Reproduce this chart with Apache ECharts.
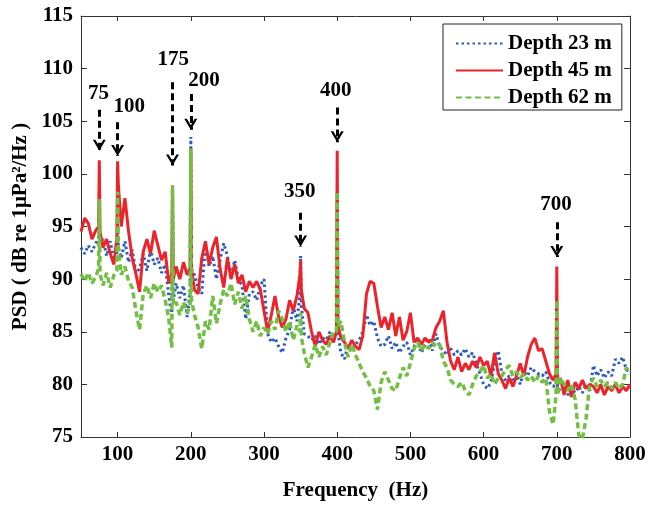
<!DOCTYPE html>
<html>
<head>
<meta charset="utf-8">
<script src="https://cdn.jsdelivr.net/npm/echarts@6/dist/echarts.min.js"></script>
<style>
  html, body { margin: 0; padding: 0; background: #fff; }
  #chart { width: 650px; height: 506px; }
</style>
</head>
<body>
<div id="chart"></div>
<script>
// frequency grid (Hz), extra points around the tonal peaks
const freq = [
  50, 55, 60, 65, 70, 74, 75, 76, 80, 85, 90, 95, 99, 100, 101,
  105, 110, 115, 120, 125, 130, 135, 140, 145, 150, 155, 160, 165, 170, 174, 175, 176,
  180, 185, 190, 195, 199, 200, 201, 205, 210, 215, 220, 225, 230, 235, 240, 245, 250,
  255, 260, 265, 270, 275, 280, 285, 290, 295, 300, 305, 310, 315, 320, 325, 330, 335, 340, 345,
  349, 350, 351, 355, 360, 365, 370, 375, 380, 385, 390, 395, 399, 400, 401,
  405, 410, 415, 420, 425, 430, 435, 440, 445, 450, 455, 460, 465, 470, 475, 480, 485, 490, 495, 500,
  505, 510, 515, 520, 525, 530, 535, 540, 545, 550, 555, 560, 565, 570, 575, 580, 585, 590, 595, 600,
  605, 610, 615, 620, 625, 630, 635, 640, 645, 650, 655, 660, 665, 670, 675, 680, 685, 690, 695, 699, 700, 701,
  705, 710, 715, 720, 725, 730, 735, 740, 745, 750, 755, 760, 765, 770, 775, 780, 785, 790, 795, 800
];

// PSD, dB re 1uPa^2/Hz
const depth23 = [
  93.0, 92.4, 93.2, 92.6, 93.4, 93.8, 94.6, 93.5, 93.8, 92.2, 93.6, 91.8, 92.5, 95.8, 93.0,
  92.0, 93.6, 91.6, 92.8, 90.6, 91.0, 92.4, 90.8, 92.8, 91.4, 92.0, 90.6, 91.4, 88.4, 86.5, 98.5, 88.0,
  89.6, 88.2, 89.4, 86.4, 88.8, 103.5, 91.0, 90.4, 89.2, 88.6, 93.4, 91.2, 92.2, 90.0, 91.8, 93.4, 92.2,
  90.2, 91.8, 90.0, 89.4, 86.2, 88.6, 88.8, 88.0, 89.4, 90.0, 84.8, 84.0, 84.4, 83.6, 83.0, 84.4, 85.2, 87.4, 86.0,
  88.5, 92.2, 87.5, 84.8, 84.6, 84.2, 84.6, 83.8, 84.4, 84.2, 85.0, 84.4, 85.0, 97.5, 85.0,
  83.0, 82.4, 83.8, 83.4, 83.8, 84.2, 85.0, 86.6, 85.6, 86.0, 84.4, 83.6, 83.8, 84.6, 83.4, 84.0, 83.0, 83.6, 84.0, 82.8,
  83.6, 84.2, 83.0, 83.8, 84.4, 83.2, 84.8, 83.6, 83.2, 82.8, 83.4, 82.8, 83.2, 82.8, 83.4, 82.6, 83.0, 82.0, 81.0, 80.0,
  79.6, 80.2, 82.0, 83.2, 81.0, 80.4, 80.8, 80.2, 81.0, 80.0, 81.2, 80.8, 81.6, 81.2, 81.0, 80.8, 81.2, 80.2, 79.8, 80.0, 84.0, 79.6,
  79.4, 79.8, 79.0, 79.6, 79.2, 79.8, 79.2, 80.0, 79.4, 81.8, 80.8, 81.4, 80.6, 81.2, 80.8, 82.4, 82.0, 82.6, 81.4, 81.2
];
const depth45 = [
  94.5, 95.8, 95.3, 93.8, 94.6, 95.0, 101.3, 94.5, 93.0, 93.8, 92.4, 91.4, 94.0, 101.2, 99.0,
  95.0, 97.7, 94.5, 92.0, 90.5, 88.8, 92.6, 93.8, 92.4, 94.6, 93.2, 91.8, 92.6, 89.6, 90.5, 98.9, 90.0,
  91.2, 90.0, 91.6, 90.4, 91.0, 102.4, 91.0, 89.0, 88.6, 92.0, 93.6, 91.4, 93.0, 94.0, 91.0, 89.2, 92.0,
  90.0, 91.4, 89.6, 90.4, 88.8, 89.8, 89.2, 89.8, 89.0, 87.0, 85.0, 86.6, 88.4, 86.4, 85.4, 86.2, 88.0, 87.0, 88.4,
  90.4, 91.8, 89.0, 87.2, 86.8, 85.0, 83.6, 85.0, 84.2, 83.8, 84.6, 84.0, 85.0, 102.2, 85.5,
  84.5, 84.0, 83.4, 84.2, 83.6, 83.3, 84.6, 88.6, 89.8, 89.6, 87.4, 85.4, 86.4, 85.2, 86.8, 84.6, 86.4, 84.2, 85.0, 86.8,
  84.0, 84.4, 83.8, 84.4, 84.0, 84.2, 85.4, 86.0, 87.0, 84.0, 82.2, 81.4, 82.6, 81.2, 82.0, 81.4, 82.2, 81.6, 82.6, 81.8,
  82.2, 80.8, 83.0, 81.0, 80.4, 79.6, 80.6, 79.8, 80.8, 82.0, 80.8, 82.6, 83.8, 84.4, 83.2, 83.4, 82.2, 81.0, 80.4, 81.0, 91.2, 80.0,
  80.6, 79.0, 80.4, 78.8, 80.2, 79.6, 80.4, 79.6, 80.0, 79.8, 79.2, 80.0, 79.0, 79.8, 79.4, 80.0, 79.2, 79.8, 79.4, 80.0
];
const depth62 = [
  90.5, 89.8, 90.6, 89.6, 90.2, 91.0, 97.6, 90.5, 89.4, 90.6, 89.2, 90.4, 90.8, 98.3, 93.0,
  90.4, 91.2, 89.8, 89.2, 87.0, 85.2, 88.6, 89.4, 88.2, 89.6, 88.8, 89.4, 88.0, 86.2, 83.5, 98.9, 87.5,
  87.8, 86.6, 87.8, 86.8, 87.5, 102.4, 88.0, 86.6, 85.4, 83.4, 86.0, 85.2, 88.4, 85.8, 87.6, 89.0, 88.4,
  89.6, 87.6, 88.8, 87.2, 88.4, 86.2, 85.0, 86.0, 84.6, 85.4, 84.8, 86.0, 85.2, 87.0, 86.2, 85.0, 86.0, 84.2, 85.6,
  85.0, 86.8, 84.5, 83.0, 81.6, 82.6, 83.8, 82.6, 83.6, 82.8, 84.0, 85.0, 85.0, 98.3, 85.5,
  86.0, 84.0, 82.6, 83.8, 82.8, 82.0, 81.2, 80.6, 79.8, 79.4, 77.6, 80.2, 81.2, 80.4, 79.6, 79.4, 80.6, 81.6, 80.8, 82.0,
  83.4, 84.0, 83.2, 83.8, 83.4, 84.0, 83.6, 83.8, 82.2, 81.6, 80.4, 80.0, 79.8, 80.2, 79.4, 79.0, 80.0, 80.8, 81.2, 81.8,
  80.6, 81.0, 80.0, 80.6, 80.8, 81.4, 81.8, 80.8, 81.2, 80.6, 81.0, 80.4, 80.8, 80.2, 80.8, 80.2, 80.6, 77.4, 76.2, 79.0, 88.0, 79.0,
  80.6, 80.0, 79.4, 80.0, 78.6, 75.2, 74.8, 76.8, 80.0, 80.6, 79.8, 80.4, 79.8, 80.2, 79.6, 80.2, 79.6, 80.0, 81.6, 81.0
];

const xTicks = [100, 200, 300, 400, 500, 600, 700, 800];
const seriesNames = ['Depth 23 m', 'Depth 45 m', 'Depth 62 m'];

// peak annotations: arrow shaft from arrowTop down to arrowTip, label above
const peakLabels = ['75', '100', '175', '200', '350', '400', '700'];
const arrowFreq = [75, 100, 175, 200, 350, 400, 700];
const arrowTop = [106.1, 104.9, 108.7, 107.6, 96.3, 106.3, 95.4];
const arrowTip = [102.2, 101.7, 100.8, 104.2, 93.1, 103.0, 92.1];
const labelFreq = [74, 116, 176, 218, 349, 398, 699];
const labelLevel = [107.6, 106.4, 110.9, 108.9, 98.3, 107.9, 97.1];

const FONT = '"Liberation Serif", "Times New Roman", serif';
const CHEVRON = 'path://M0,0 L2.6,0 L6.5,6.6 L10.4,0 L13,0 L6.5,11 Z';

const toPairs = (vals) => freq.map((f, i) => [f, vals[i]]);

const chart = echarts.init(document.getElementById('chart'));

const arrowLines = arrowFreq.map((f, i) => ([
  { coord: [f, arrowTop[i]] },
  { coord: [f, arrowTip[i]] },
]));

const arrowHeads = arrowFreq.map((f, i) => ({
  coord: [f, arrowTip[i]],
  symbol: CHEVRON,
  symbolSize: [13, 11],
  symbolOffset: [0, -5.5],
  itemStyle: { color: '#000' },
  label: { show: false },
}));

const peakTexts = peakLabels.map((t, i) => ({
  coord: [labelFreq[i], labelLevel[i]],
  symbol: 'circle',
  symbolSize: 0,
  label: {
    show: true,
    position: 'inside',
    formatter: t,
    color: '#000',
    fontFamily: FONT,
    fontWeight: 'bold',
    fontSize: 21,
  },
}));

const axisFont = {
  color: '#000',
  fontFamily: FONT,
  fontWeight: 'bold',
  fontSize: 21,
};

chart.setOption({
  animation: false,
  grid: { left: 81, right: 20, top: 16, bottom: 57 },
  legend: {
    data: seriesNames,
    orient: 'vertical',
    left: 443,
    top: 24,
    padding: [9, 10, 2, 12],
    itemGap: 6,
    itemWidth: 47,
    itemHeight: 12,
    itemStyle: { opacity: 0 },
    backgroundColor: '#fff',
    borderColor: '#222',
    borderWidth: 1,
    borderRadius: 0,
    textStyle: axisFont,
  },
  xAxis: [
    {
      type: 'value',
      min: 50,
      max: 800,
      name: 'Frequency  (Hz)',
      nameLocation: 'middle',
      nameGap: 43,
      nameTextStyle: axisFont,
      axisLine: { lineStyle: { color: '#333', width: 1 } },
      axisTick: { inside: true, length: 5, customValues: xTicks, lineStyle: { color: '#333' } },
      axisLabel: { customValues: xTicks, margin: 7, ...axisFont },
      splitLine: { show: false },
    },
    {
      type: 'value',
      position: 'top',
      min: 50,
      max: 800,
      axisLine: { lineStyle: { color: '#333', width: 1 } },
      axisTick: { inside: true, length: 5, customValues: xTicks, lineStyle: { color: '#333' } },
      axisLabel: { show: false },
      splitLine: { show: false },
    },
  ],
  yAxis: [
    {
      type: 'value',
      min: 75,
      max: 115,
      interval: 5,
      name: 'PSD ( dB re 1μPa²/Hz )',
      nameLocation: 'middle',
      nameGap: 47,
      nameTextStyle: axisFont,
      axisLine: { show: true, lineStyle: { color: '#333', width: 1 } },
      axisTick: { show: true, inside: true, length: 6, lineStyle: { color: '#333' } },
      axisLabel: { margin: 8, ...axisFont },
      splitLine: { show: false },
    },
    {
      type: 'value',
      position: 'right',
      min: 75,
      max: 115,
      interval: 5,
      axisLine: { show: true, lineStyle: { color: '#333', width: 1 } },
      axisTick: { show: true, inside: true, length: 6, lineStyle: { color: '#333' } },
      axisLabel: { show: false },
      splitLine: { show: false },
    },
  ],
  series: [
    {
      name: seriesNames[0],
      type: 'line',
      data: toPairs(depth23),
      symbol: 'none',
      lineStyle: { color: '#2b5cbd', width: 3, type: [2.5, 3] },
      itemStyle: { color: '#2b5cbd' },
    },
    {
      name: seriesNames[1],
      type: 'line',
      data: toPairs(depth45),
      symbol: 'none',
      lineStyle: { color: '#ee2329', width: 3 },
      itemStyle: { color: '#ee2329' },
    },
    {
      name: seriesNames[2],
      type: 'line',
      data: toPairs(depth62),
      symbol: 'none',
      lineStyle: { color: '#72bf44', width: 3.5, type: [6, 3.5] },
      itemStyle: { color: '#72bf44' },
      markLine: {
        silent: true,
        symbol: ['none', 'none'],
        label: { show: false },
        lineStyle: { color: '#000', width: 3, type: [7, 4] },
        emphasis: { disabled: true },
        data: arrowLines,
      },
      markPoint: {
        silent: true,
        data: arrowHeads.concat(peakTexts),
      },
    },
  ],
});
</script>
</body>
</html>
